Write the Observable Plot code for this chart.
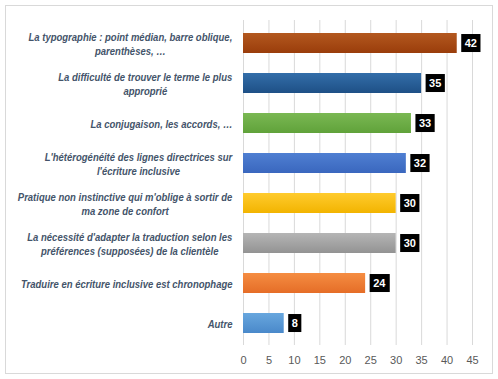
<!DOCTYPE html>
<html><head><meta charset="utf-8">
<script src="https://cdn.jsdelivr.net/npm/d3@7"></script>
<script src="https://cdn.jsdelivr.net/npm/@observablehq/plot@0.6"></script>
<style>
body{margin:0;background:#fff;}
#wrap{position:relative;width:498px;height:379px;overflow:hidden;}
#border{position:absolute;left:5px;top:5px;width:486px;height:367px;border:1px solid #d9d9d9;pointer-events:none;}
</style></head><body>
<div id="wrap"><div id="border"></div></div>
<script>
const categories = [
  "La typographie : point médian, barre oblique,\nparenthèses, …",
  "La difficulté de trouver le terme le plus\napproprié",
  "La conjugaison, les accords, …",
  "L'hétérogénéité des lignes directrices sur\nl'écriture inclusive",
  "Pratique non instinctive qui m'oblige à sortir de\nma zone de confort",
  "La nécessité d'adapter la traduction selon les\npréférences (supposées) de la clientèle",
  "Traduire en écriture inclusive est chronophage",
  "Autre"
];
const values = [42, 35, 33, 32, 30, 30, 24, 8];
const colorsTop = ["#b3581f", "#336ea9", "#7ab853", "#4f7fd2", "#ffcb2e", "#b5b5b5", "#f58d42", "#68a7de"];
const colorsBottom = ["#9a3d0b", "#1e5086", "#60a23a", "#3a67be", "#f2b400", "#939393", "#e56d27", "#4a89ca"];
const xTicks = [0, 5, 10, 15, 20, 25, 30, 35, 40, 45];

const data = categories.map((c, i) => ({category: c, value: values[i]}));
const gradIds = categories.map((c, i) => `url(#grad${i})`);

const svg = Plot.plot({
  width: 498,
  height: 379,
  marginLeft: 243,
  marginRight: 26,
  marginTop: 20,
  marginBottom: 34,
  style: {background: "transparent", fontFamily: "'Liberation Sans', sans-serif"},
  x: {domain: [0, 45]},
  y: {domain: categories, paddingInner: 0.5, paddingOuter: 0.25},
  color: {domain: categories, range: gradIds},
  marks: [
    Plot.gridX(xTicks, {stroke: "#d9d9d9", strokeOpacity: 1, strokeWidth: 1}),
    Plot.axisX({ticks: xTicks, tickSize: 0, tickPadding: 11, fill: "#595959", fontSize: 11, label: null}),
    Plot.axisY({tickSize: 0, tickPadding: 11, label: null, fill: "#44546a", fontSize: 11,
      fontWeight: "bold", fontStyle: "italic", lineHeight: 1.27}),
    Plot.barX(data, {x: "value", y: "category", fill: "category"}),
    Plot.text(data, {x: "value", y: "category", text: d => String(d.value), textAnchor: "start",
      dx: 7.5, fill: "white", fontWeight: "bold", fontSize: 11, className: "vlabel"})
  ]
});

// gradients
const defs = d3.select(svg).insert("defs", ":first-child");
categories.forEach((c, i) => {
  const g = defs.append("linearGradient").attr("id", `grad${i}`)
    .attr("x1", 0).attr("y1", 0).attr("x2", 0).attr("y2", 1);
  g.append("stop").attr("offset", "0%").attr("stop-color", colorsTop[i]);
  g.append("stop").attr("offset", "100%").attr("stop-color", colorsBottom[i]);
});

document.getElementById("wrap").appendChild(svg);

// category labels: center lines within block, and narrow horizontally (Calibri-like width)
const labelTexts = d3.select(svg).selectAll("g[aria-label='y-axis tick label'] text");
let refWidth = 0;
labelTexts.each(function() {
  const tspans = this.querySelectorAll("tspan");
  if (!tspans.length && this.textContent.startsWith("Traduire")) refWidth = this.getComputedTextLength();
  tspans.forEach(t => { if (t.textContent.startsWith("Traduire")) refWidth = t.getComputedTextLength(); });
});
const k = refWidth ? 212 / refWidth : 0.85;
labelTexts.each(function() {
  const tspans = this.querySelectorAll("tspan");
  if (tspans.length) {
    let W = 0;
    tspans.forEach(t => { W = Math.max(W, t.getComputedTextLength()); });
    this.setAttribute("text-anchor", "middle");
    tspans.forEach(t => t.setAttribute("x", -W / 2));
  }
  const tr = this.getAttribute("transform") || "";
  this.setAttribute("transform", tr + ` scale(${k},1)`);
});

// black boxes behind value labels
d3.select(svg).selectAll("g.vlabel text").each(function() {
  const bb = this.getBBox();
  const cy = bb.y + bb.height / 2;
  const rect = document.createElementNS("http://www.w3.org/2000/svg", "rect");
  rect.setAttribute("x", bb.x - 3.5);
  rect.setAttribute("y", cy - 9);
  rect.setAttribute("width", bb.width + 7);
  rect.setAttribute("height", 18);
  rect.setAttribute("fill", "#000");
  const tr = this.getAttribute("transform");
  if (tr) rect.setAttribute("transform", tr);
  this.parentNode.insertBefore(rect, this);
});
</script>
</body></html>
